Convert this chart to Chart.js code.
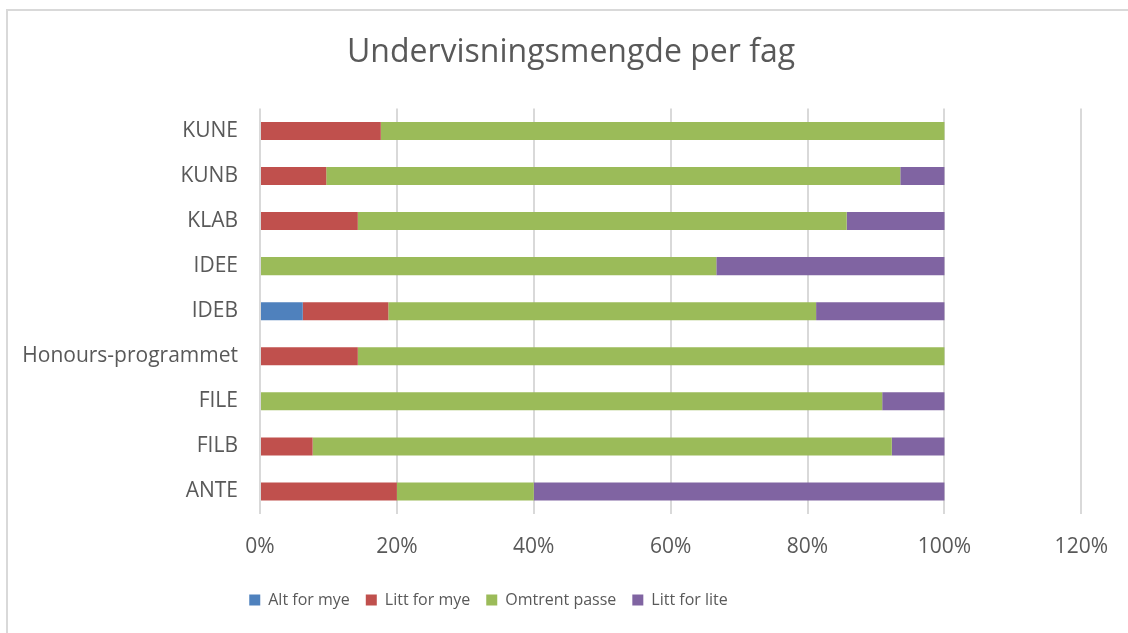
<!DOCTYPE html>
<html>
<head>
<meta charset="utf-8">
<script src="https://cdn.jsdelivr.net/npm/chart.js@4/dist/chart.umd.min.js"></script>
<style>
  body { margin: 0; background: #fff; }
  canvas { display: block; }
</style>
</head>
<body>
<canvas id="chart" width="1128" height="633"></canvas>
<script>
const categories = ['KUNE', 'KUNB', 'KLAB', 'IDEE', 'IDEB', 'Honours-programmet', 'FILE', 'FILB', 'ANTE'];
const altForMye = [0, 0, 0, 0, 6.25, 0, 0, 0, 0];
const littForMye = [17.65, 9.68, 14.29, 0, 12.5, 14.29, 0, 7.69, 20];
const omtrentPasse = [82.35, 83.87, 71.43, 66.67, 62.5, 85.71, 90.91, 84.62, 20];
const littForLite = [0, 6.45, 14.29, 33.33, 18.75, 0, 9.09, 7.69, 60];
const xTicks = [0, 20, 40, 60, 80, 100, 120];

const textColor = '#595959';
const font = 'Open Sans';

// light frame round the chart, like the Excel chart border
const framePlugin = {
    id: 'frame',
    beforeDraw(chart) {
        const ctx = chart.ctx;
        ctx.save();
        ctx.strokeStyle = '#d9d9d9';
        ctx.lineWidth = 2;
        ctx.strokeRect(7, 10, 1200, 700);
        ctx.restore();
    }
};

// move title and legend off the canvas centre
const shiftPlugin = {
    id: 'shift',
    afterLayout(chart) {
        if (chart.legend) {
            chart.legend.left = 0;
            chart.legend.right = 977;
        }
        if (chart.titleBlock) {
            chart.titleBlock.left = 14;
            chart.titleBlock.right = 1128;
        }
    }
};

const makeSet = (label, data, color) => ({
    label,
    data,
    backgroundColor: color,
    borderWidth: 0,
    barPercentage: 0.4,
    categoryPercentage: 1
});

new Chart(document.getElementById('chart'), {
    type: 'bar',
    data: {
        labels: categories,
        datasets: [
            makeSet('Alt for mye', altForMye, '#4F81BD'),
            makeSet('Litt for mye', littForMye, '#C0504D'),
            makeSet('Omtrent passe', omtrentPasse, '#9BBB59'),
            makeSet('Litt for lite', littForLite, '#8064A2')
        ]
    },
    options: {
        indexAxis: 'y',
        responsive: false,
        animation: false,
        layout: { padding: { left: 0, right: 45, top: 0, bottom: 15 } },
        scales: {
            x: {
                stacked: true,
                min: 0,
                max: 120,
                afterBuildTicks(axis) {
                    axis.ticks = xTicks.map(v => ({ value: v }));
                },
                afterFit(axis) { axis.height = 62; },
                grid: { color: '#d9d9d9', lineWidth: 2, drawTicks: false },
                border: { display: false },
                ticks: {
                    padding: 20,
                    color: textColor,
                    font: { family: font, size: 21 },
                    callback: v => v + '%'
                }
            },
            y: {
                stacked: true,
                afterFit(axis) { axis.width = 260; },
                grid: { display: false, drawTicks: false },
                border: { display: false },
                ticks: {
                    padding: 22,
                    color: textColor,
                    font: { family: font, size: 21 }
                }
            }
        },
        plugins: {
            title: {
                display: true,
                text: 'Undervisningsmengde per fag',
                color: textColor,
                font: { family: font, size: 32, weight: 'normal' },
                padding: { top: 34, bottom: 36 }
            },
            legend: {
                position: 'bottom',
                labels: {
                    boxWidth: 11,
                    boxHeight: 11,
                    padding: 16,
                    color: textColor,
                    font: { family: font, size: 16 }
                }
            },
            tooltip: { enabled: false }
        }
    },
    plugins: [framePlugin, shiftPlugin]
});
</script>
</body>
</html>
